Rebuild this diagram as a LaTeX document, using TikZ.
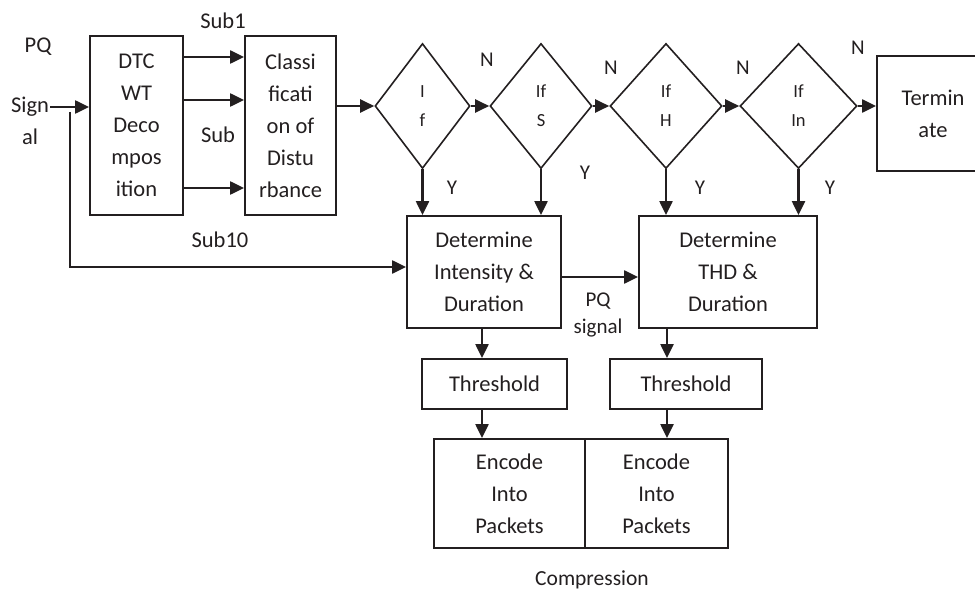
\documentclass[tikz,border=0pt]{standalone}
\usepackage{fontspec}
\setmainfont{Carlito}
\usetikzlibrary{shapes.geometric,arrows.meta}
\definecolor{ink}{HTML}{231F20}
\newcommand\fsMain{\fontsize{22.5}{32}\selectfont}
\newcommand\fsDia{\fontsize{18.5}{29}\selectfont}
\newcommand\fsLab{\fontsize{21}{27}\selectfont}
\newcommand\fsComp{\fontsize{21.5}{25}\selectfont}
\begin{document}
\begin{tikzpicture}[x=1pt,y=-1pt,
  every node/.style={text=ink},
  blk/.style={draw=ink, line width=1.8pt, inner sep=0pt, align=center, font=\fsMain},
  dia/.style={draw=ink, diamond, line width=1.6pt, inner sep=0pt, align=center, font=\fsDia, minimum height=125pt},
  arr/.style={draw=ink, line width=2.2pt, -{Triangle[length=14pt,width=13pt]}},
  lab/.style={font=\fsLab, inner sep=0pt, align=center},
  txt/.style={font=\fsMain, inner sep=0pt, align=center}]
\useasboundingbox (0,0) rectangle (975,591);

% boxes
\node[blk, minimum width=93pt, minimum height=179pt] (dtc) at (136.5,125.5) {DTC\\WT\\Deco\\mpos\\ition};
\node[blk, minimum width=91pt, minimum height=179pt] (cls) at (290.5,125.5) {Classi\\ficati\\on of\\Distu\\rbance};
\node[dia, minimum width=95pt] (d1) at (422.5,106) {I\\f};
\node[dia, minimum width=102pt] (d2) at (541,106) {If\\S};
\node[dia, minimum width=112pt] (d3) at (666,106) {If\\H};
\node[dia, minimum width=117pt] (d4) at (798.5,106) {If\\In};
\node[blk, minimum width=112pt, minimum height=115pt] (term) at (933,113.5) {Termin\\ate};
\node[blk, minimum width=154pt, minimum height=112pt] (det1) at (484,272) {Determine\\Intensity \&\\Duration};
\node[blk, minimum width=178pt, minimum height=112pt] (det2) at (728,272) {Determine\\THD \&\\Duration};
\node[blk, minimum width=145pt, minimum height=50pt] (th1) at (494.5,384) {Threshold};
\node[blk, minimum width=152pt, minimum height=50pt] (th2) at (686,384) {Threshold};
\node[blk, minimum width=151pt, minimum height=109pt] (enc1) at (509.5,493.5) {Encode\\Into\\Packets};
\node[blk, minimum width=143pt, minimum height=109pt] (enc2) at (656.5,493.5) {Encode\\Into\\Packets};

% free labels
\node[txt] (pq) at (38,47) {PQ};
\node[txt] (sig) at (30,121) {Sign\\al};
\node[txt] (sub1) at (223,21) {Sub1};
\node[txt] (sub) at (218,135) {Sub};
\node[txt] (sub10) at (220,240) {Sub10};
\node[lab] (n1) at (487,60) {N};
\node[lab] (n2) at (611,68) {N};
\node[lab] (n3) at (743,68) {N};
\node[lab] (n4) at (858,48) {N};
\node[lab] (y1) at (452,188) {Y};
\node[lab] (y2) at (585,173) {Y};
\node[lab] (y3) at (700,188) {Y};
\node[lab] (y4) at (830,188) {Y};
\node[lab] (pqs) at (598,315) {PQ\\signal};
\node[font=\fsComp, inner sep=0pt] (comp) at (592,580) {Compression};

% connectors
\coordinate (sin) at (50,107);
\draw[arr] (sin) -- (sin -| dtc.west);
\coordinate (fbs) at (70,112);
\coordinate (fbe) at (70,267);
\draw[arr] (fbs) -- (fbe) -- (fbe -| det1.west);
\foreach \yy in {57,100,188}{
  \coordinate (s\yy) at (0,\yy);
  \draw[arr] (dtc.east |- s\yy) -- (cls.west |- s\yy);
}
\draw[arr] (cls.east |- d1.west) -- (d1.west);
\draw[arr] (d1.east) -- (d2.west);
\draw[arr] (d2.east) -- (d3.west);
\draw[arr] (d3.east) -- (d4.west);
\draw[arr] (d4.east) -- (term.west |- d4.east);
\draw[arr] (d1.south) -- (d1.south |- det1.north);
\draw[arr] (d2.south) -- (d2.south |- det1.north);
\draw[arr] (d3.south) -- (d3.south |- det2.north);
\draw[arr] (d4.south) -- (d4.south |- det2.north);
\coordinate (mid) at (0,277);
\draw[arr] (det1.east |- mid) -- (det2.west |- mid);
\coordinate (a1) at (482,0);
\coordinate (a2) at (667,0);
\draw[arr] (det1.south -| a1) -- (th1.north -| a1);
\draw[arr] (th1.south -| a1) -- (enc1.north -| a1);
\draw[arr] (det2.south -| a2) -- (th2.north -| a2);
\draw[arr] (th2.south -| a2) -- (enc2.north -| a2);
\end{tikzpicture}
\end{document}
